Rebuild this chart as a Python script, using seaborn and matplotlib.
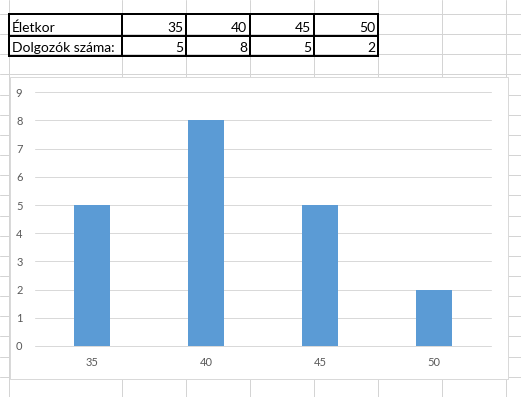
import matplotlib
matplotlib.use("Agg")
import matplotlib.pyplot as plt
import seaborn as sns
import pandas as pd
from matplotlib.patches import Rectangle

# ---- data ----
eletkor = [35, 40, 45, 50]
dolgozok = [5, 8, 5, 2]
row_labels = ["Életkor", "Dolgozók száma:"]
y_ticks = list(range(0, 10))

sns.set_theme(style="white")
plt.rcParams['font.family'] = ['Lato', 'DejaVu Sans']

W, H = 521, 397
DPI = 100
fig = plt.figure(figsize=(W / DPI, H / DPI), dpi=DPI)
fig.patch.set_facecolor("white")
px = 72 / DPI  # points per pixel

# ---- spreadsheet background ----
bg = fig.add_axes([0, 0, 1, 1])
bg.set_xlim(0, W)
bg.set_ylim(H, 0)
bg.axis("off")
col_x = [9, 122, 186, 250, 314, 378, 442, 506]
row_y = [14 + 20.15 * k for k in range(20)]
for x in col_x:
    bg.axvline(x, color="#d4d4d4", lw=1 * px, zorder=1)
for y in row_y:
    bg.axhline(y, color="#d4d4d4", lw=1 * px, zorder=1)

# ---- table ----
tcols = col_x[:6]
trows = [14, 35.5, 56]
for x in tcols:
    bg.plot([x, x], [trows[0], trows[-1]], color="black", lw=2 * px, zorder=3,
            solid_capstyle="projecting")
for y in trows:
    bg.plot([tcols[0], tcols[-1]], [y, y], color="black", lw=2 * px, zorder=3,
            solid_capstyle="projecting")
rows_vals = [eletkor, dolgozok]
for r, (lab, vals) in enumerate(zip(row_labels, rows_vals)):
    base = trows[r + 1] - 4
    bg.text(tcols[0] + 2.5, base, lab, ha="left", va="baseline",
            fontsize=10, color="black", zorder=4)
    for c, v in enumerate(vals):
        bg.text(tcols[c + 2] - 3, base, str(v), ha="right", va="baseline",
                fontsize=10, color="black", zorder=4)

# ---- chart panel ----
bg.add_patch(Rectangle((9.5, 77), 507.5 - 9.5, 379 - 77, facecolor="white",
                       edgecolor="#d9d9d9", lw=1 * px, zorder=5))

# ---- bar chart ----
left, right = 35, 491
top, bottom = 92.3, 346
ax = fig.add_axes([left / W, (H - bottom) / H, (right - left) / W, (bottom - top) / H])
ax.set_facecolor("none")
ax.set_zorder(10)
df = pd.DataFrame({"Életkor": [str(e) for e in eletkor], "Dolgozók": dolgozok})
sns.barplot(data=df, x="Életkor", y="Dolgozók", color="#5B9BD5", saturation=1,
            width=0.316, ax=ax, zorder=3, linewidth=0)
ax.set_ylim(0, 9)
ax.set_yticks(y_ticks)
ax.yaxis.grid(True, color="#d9d9d9", lw=1 * px, zorder=0)
ax.set_axisbelow(True)
for s in ax.spines.values():
    s.set_visible(False)
ax.set_xlabel("")
ax.set_ylabel("")
ax.tick_params(axis="both", length=0, labelsize=8, colors="#595959")
ax.tick_params(axis="y", pad=9)
ax.tick_params(axis="x", pad=8)
for line in ax.get_ygridlines():
    line.set_clip_on(False)

fig.savefig("out.png", dpi=DPI)
